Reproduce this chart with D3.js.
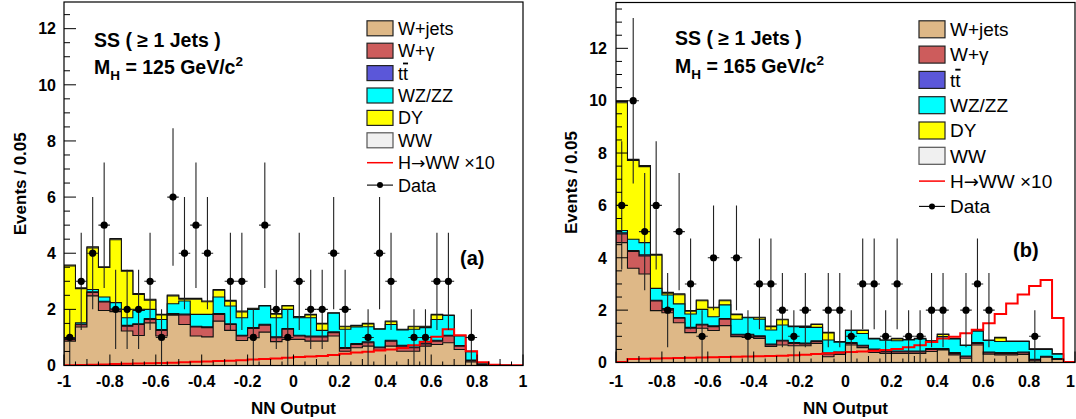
<!DOCTYPE html>
<html><head><meta charset="utf-8">
<script src="https://cdn.jsdelivr.net/npm/d3@7/dist/d3.min.js"></script>
<style>
body{margin:0;background:#fff;}
svg{display:block;}
text{font-family:"Liberation Sans",Arial,Helvetica,sans-serif;}
</style>
</head><body>
<svg id="chart" width="1076" height="419"></svg>
<script>
// ---------- binning & labels ----------
const binLow = -1, binWidth = 0.05, nBins = 40;
const xTickLabels = ["-1","-0.8","-0.6","-0.4","-0.2","0","0.2","0.4","0.6","0.8","1"];
const yTickLabels = ["0","2","4","6","8","10","12"];
const legendLabels = ["W+jets","W+\u03b3","tt","WZ/ZZ","DY","WW","H\u2192WW \u00d710","Data"];
const seriesNames = ["W+jets","W+\u03b3","tt","WZ/ZZ","DY","WW"];

// ---------- panel (a): M_H = 125 ----------
const a_wjets  = [0.87,1.37,2.48,1.96,1.92,1.23,1.07,1.52,1.05,1.79,1.46,1.05,1.02,1.58,1.25,0.89,0.99,1.19,0.85,0.93,
                  0.93,0.87,0.87,1.05,0.51,0.63,0.69,0.54,0.69,0.51,0.51,0.69,0.75,0.81,0.57,0.13,0.03,0.01,0.00,0.00];
const a_wgamma = [0.06,0.08,0.12,0.30,0.06,0.17,0.39,0.12,0.20,0.03,0.34,0.32,0.33,0.24,0.21,0.16,0.33,0.25,0.14,0.36,
                  0.12,0.15,0.15,0.12,0.10,0.12,0.12,0.09,0.18,0.18,0.12,0.08,0.12,0.24,0.12,0.05,0.01,0.00,0.00,0.00];
const a_ttbar  = [0.02,0.02,0.03,0.03,0.03,0.03,0.03,0.03,0.03,0.03,0.03,0.03,0.03,0.03,0.03,0.03,0.03,0.03,0.03,0.03,
                  0.03,0.03,0.03,0.03,0.03,0.03,0.03,0.03,0.03,0.03,0.03,0.03,0.03,0.03,0.02,0.01,0.00,0.00,0.00,0.00];
const a_wzzz   = [0.01,0.05,0.08,0.15,0.23,0.27,0.47,0.33,0.36,0.35,0.47,0.42,0.44,0.59,0.63,0.62,0.65,0.65,0.68,0.68,
                  0.62,0.65,0.20,0.66,0.65,0.59,0.54,0.63,0.56,0.55,0.63,0.55,0.74,0.70,0.34,0.30,0.05,0.01,0.01,0.00];
const a_dy     = [2.59,1.22,1.48,1.05,2.24,1.66,0.57,0.33,0.16,0.28,0.06,0.54,0.45,0.24,0.17,0.21,0.02,0.00,0.13,0.12,
                  0.02,0.10,0.23,0.00,0.09,0.04,0.10,0.00,0.10,0.00,0.09,0.03,0.16,0.00,0.00,0.00,0.00,0.00,0.00,0.00];
const a_ww     = [0.03,0.03,0.04,0.03,0.04,0.03,0.03,0.03,0.02,0.03,0.03,0.03,0.03,0.03,0.03,0.03,0.02,0.02,0.02,0.02,
                  0.02,0.02,0.02,0.02,0.02,0.02,0.02,0.02,0.02,0.02,0.02,0.02,0.02,0.02,0.02,0.02,0.01,0.00,0.00,0.00];
const a_higgs  = [0.01,0.02,0.03,0.04,0.05,0.06,0.07,0.08,0.09,0.10,0.12,0.13,0.14,0.16,0.17,0.19,0.21,0.23,0.25,0.28,
                  0.30,0.32,0.34,0.37,0.42,0.46,0.49,0.53,0.57,0.62,0.72,0.85,1.02,1.29,1.08,0.51,0.12,0.03,0.01,0.01];
const a_data   = [1,3,4,5,2,2,2,3,1,6,4,5,4,0,3,3,1,5,2,1,
                  3,2,2,4,2,0,1,4,3,0,1,1,3,3,0,1,0,0,0,0];

// ---------- panel (b): M_H = 165 ----------
const b_wjets  = [4.58,3.60,3.38,1.98,1.90,1.52,1.14,1.31,1.22,1.41,0.99,0.96,0.92,0.61,0.67,0.64,0.64,0.73,0.22,0.31,
                  0.67,0.57,0.38,0.35,0.35,0.35,0.35,0.42,0.48,0.29,0.16,0.67,0.32,0.29,0.29,0.31,0.06,0.20,0.12,0.01];
const b_wgamma = [0.33,0.64,0.69,0.37,0.13,0.17,0.17,0.12,0.15,0.24,0.06,0.09,0.07,0.06,0.15,0.09,0.07,0.07,0.11,0.06,
                  0.06,0.06,0.10,0.06,0.06,0.06,0.06,0.08,0.02,0.06,0.06,0.06,0.05,0.06,0.06,0.06,0.04,0.02,0.02,0.00];
const b_ttbar  = [0.04,0.04,0.04,0.03,0.03,0.03,0.03,0.03,0.03,0.03,0.03,0.03,0.03,0.03,0.03,0.03,0.03,0.03,0.03,0.03,
                  0.03,0.03,0.03,0.03,0.03,0.03,0.03,0.03,0.03,0.03,0.03,0.03,0.03,0.03,0.03,0.03,0.02,0.02,0.01,0.00];
const b_wzzz   = [0.09,0.43,0.47,0.45,0.52,0.52,0.51,0.57,0.35,0.52,0.57,0.63,0.63,0.54,0.58,0.61,0.60,0.51,0.50,0.38,
                  0.46,0.45,0.39,0.41,0.39,0.42,0.46,0.28,0.46,0.52,0.40,0.44,0.44,0.42,0.42,0.40,0.38,0.26,0.17,0.02];
const b_dy     = [4.88,3.01,2.90,1.27,0.07,0.35,0.11,0.33,0.34,0.16,0.18,0.00,0.06,0.13,0.20,0.00,0.03,0.11,0.27,0.00,
                  0.00,0.11,0.00,0.00,0.07,0.00,0.00,0.00,0.08,0.00,0.00,0.00,0.00,0.14,0.00,0.00,0.00,0.00,0.00,0.00];
const b_ww     = [0.05,0.04,0.04,0.03,0.03,0.03,0.02,0.03,0.02,0.03,0.02,0.02,0.02,0.02,0.02,0.02,0.02,0.02,0.02,0.02,
                  0.02,0.02,0.02,0.01,0.02,0.02,0.02,0.02,0.02,0.02,0.02,0.02,0.02,0.02,0.02,0.02,0.02,0.02,0.01,0.00];
const b_higgs  = [0.02,0.13,0.14,0.15,0.16,0.17,0.18,0.19,0.20,0.21,0.22,0.23,0.24,0.25,0.26,0.28,0.30,0.32,0.35,0.38,
                  0.40,0.42,0.45,0.48,0.52,0.58,0.66,0.78,0.92,0.98,1.12,1.25,1.50,1.85,2.25,2.60,2.92,3.15,1.70,0.02];
const b_data   = [6,10,5,6,2,5,3,1,4,0,4,1,3,3,2,1,2,0,2,2,
                  1,3,3,1,3,1,1,2,2,0,2,3,2,0,0,0,1,0,0,0];

// ---------- styles ----------
const fillColors = ["#deb887","#cd5c5c","#5b57d9","#00ffff","#ffff00","#f0f0f0"];

const panels = [
  {series:[a_wjets,a_wgamma,a_ttbar,a_wzzz,a_dy,a_ww], higgs:a_higgs, data:a_data,
   x0:64, x1:523, yTop:2, yBot:365.5, yMax:12.95,
   textX:94, textY:[47,74], mass:"125", tag:"(a)", tagX:460, tagY:265,
   leg:{swX:367, swW:26, swH:15, textX:398, y0:28.3, dy:22.4, fs:18},
   yTitleX:26, yTickX:56},
  {series:[b_wjets,b_wgamma,b_ttbar,b_wzzz,b_dy,b_ww], higgs:b_higgs, data:b_data,
   x0:616, x1:1075, yTop:2.5, yBot:362.5, yMax:13.75,
   textX:675, textY:[45,73], mass:"165", tag:"(b)", tagX:1013, tagY:257,
   leg:{swX:919, swW:26, swH:17, textX:950, y0:29.3, dy:25.3, fs:19},
   yTitleX:577, yTickX:607}
];

const svg = d3.select("#chart");
const W = +svg.attr("width");

panels.forEach((p, pi) => {
  const g = svg.append("g");
  const x = d3.scaleLinear().domain([-1, 1]).range([p.x0, p.x1]);
  const y = d3.scaleLinear().domain([0, p.yMax]).range([p.yBot, p.yTop]);

  const clipId = "clip" + pi;
  svg.append("clipPath").attr("id", clipId).append("rect")
    .attr("x", p.x0).attr("y", p.yTop).attr("width", p.x1 - p.x0).attr("height", p.yBot - p.yTop);
  const plot = g.append("g").attr("clip-path", `url(#${clipId})`);

  const rows = d3.range(nBins).map(i => {
    const r = {i: i};
    seriesNames.forEach((n, k) => r[n] = p.series[k][i]);
    return r;
  });
  const stacked = d3.stack().keys(seriesNames)(rows);
  const edge = i => binLow + i * binWidth;

  const area = d3.area().curve(d3.curveStepAfter)
    .x(d => x(d.e)).y0(y(0)).y1(d => y(d.v));
  for (let k = seriesNames.length - 1; k >= 0; k--) {
    const pts = stacked[k].map((s, i) => ({e: edge(i), v: s[1]}));
    pts.push({e: edge(nBins), v: stacked[k][nBins - 1][1]});
    plot.append("path").attr("d", area(pts))
      .attr("fill", fillColors[k]).attr("stroke", "#111").attr("stroke-width", 1.1);
  }

  const line = d3.line().curve(d3.curveStepAfter).x(d => x(d.e)).y(d => y(d.v));
  const hp = p.higgs.map((v, i) => ({e: edge(i), v: v}));
  hp.push({e: edge(nBins), v: p.higgs[nBins - 1]});
  plot.append("path").attr("d", line(hp)).attr("fill", "none")
    .attr("stroke", "#ff0000").attr("stroke-width", 2);

  p.data.forEach((n, i) => {
    if (n <= 0) return;
    const cx = x(edge(i) + binWidth / 2), e = Math.sqrt(n);
    plot.append("line").attr("x1", cx).attr("x2", cx)
      .attr("y1", y(Math.max(0, n - e))).attr("y2", y(n + e))
      .attr("stroke", "#222").attr("stroke-width", 1.1);
    plot.append("line").attr("x1", x(edge(i))).attr("x2", x(edge(i + 1)))
      .attr("y1", y(n)).attr("y2", y(n)).attr("stroke", "#222").attr("stroke-width", 1.1);
    plot.append("circle").attr("cx", cx).attr("cy", y(n)).attr("r", 3.6).attr("fill", "#000");
  });

  g.append("rect").attr("x", p.x0).attr("y", p.yTop)
    .attr("width", p.x1 - p.x0).attr("height", p.yBot - p.yTop)
    .attr("fill", "none").attr("stroke", "#000").attr("stroke-width", 1.2);

  d3.range(0, 41).forEach(j => {
    const v = -1 + j * 0.05;
    const len = (j % 4 === 0) ? 11 : (j % 2 === 0 ? 6.5 : 4);
    g.append("line").attr("x1", x(v)).attr("x2", x(v))
      .attr("y1", p.yBot).attr("y2", p.yBot - len).attr("stroke", "#000").attr("stroke-width", 1);
  });
  xTickLabels.forEach(lbl => {
    const t = g.append("text").attr("x", x(+lbl)).attr("y", 387).attr("text-anchor", "middle")
      .attr("font-weight", "bold").attr("font-size", 16).text(lbl);
    const bb = t.node().getBBox();
    if (bb.x + bb.width > W - 1) t.attr("x", W - 1 - bb.width / 2);
  });
  d3.range(0, Math.floor(p.yMax * 2) + 1).forEach(j => {
    const v = j * 0.5;
    const len = (j % 4 === 0) ? 12 : 6;
    g.append("line").attr("x1", p.x0).attr("x2", p.x0 + len)
      .attr("y1", y(v)).attr("y2", y(v)).attr("stroke", "#000").attr("stroke-width", 1);
  });
  yTickLabels.forEach(lbl => {
    g.append("text").attr("x", p.yTickX).attr("y", y(+lbl)).attr("dy", "0.36em")
      .attr("text-anchor", "end").attr("font-weight", "bold").attr("font-size", 16).text(lbl);
  });

  g.append("text").attr("x", (p.x0 + p.x1) / 2).attr("y", 413.5).attr("text-anchor", "middle")
    .attr("font-weight", "bold").attr("font-size", 17).text("NN Output");
  g.append("text").attr("transform", `translate(${p.yTitleX},${(p.yTop + p.yBot) / 2}) rotate(-90)`)
    .attr("text-anchor", "middle").attr("font-weight", "bold").attr("font-size", 17).text("Events / 0.05");

  g.append("text").attr("x", p.textX).attr("y", p.textY[0]).attr("font-weight", "bold")
    .attr("font-size", 19.5).text("SS ( \u2265 1 Jets )");
  const t2 = g.append("text").attr("x", p.textX).attr("y", p.textY[1]).attr("font-weight", "bold")
    .attr("font-size", 19.5);
  t2.append("tspan").text("M");
  t2.append("tspan").attr("font-size", 13.5).attr("dy", 6).text("H");
  t2.append("tspan").attr("dy", -6).text(" = " + p.mass + " GeV/c");
  t2.append("tspan").attr("font-size", 13.5).attr("dy", -8).text("2");

  g.append("text").attr("x", p.tagX).attr("y", p.tagY).attr("font-weight", "bold")
    .attr("font-size", 20).text(p.tag);

  const L = p.leg;
  legendLabels.forEach((lbl, k) => {
    const cy = L.y0 + k * L.dy;
    if (k < 6) {
      g.append("rect").attr("x", L.swX).attr("y", cy - L.swH / 2).attr("width", L.swW).attr("height", L.swH)
        .attr("fill", fillColors[k]).attr("stroke", k === 5 ? "#555" : "#222").attr("stroke-width", 1.2);
    } else if (k === 6) {
      g.append("line").attr("x1", L.swX).attr("x2", L.swX + L.swW).attr("y1", cy).attr("y2", cy)
        .attr("stroke", "#ff0000").attr("stroke-width", 1.5);
    } else {
      g.append("line").attr("x1", L.swX).attr("x2", L.swX + L.swW).attr("y1", cy).attr("y2", cy)
        .attr("stroke", "#000").attr("stroke-width", 1.1);
      g.append("circle").attr("cx", L.swX + L.swW / 2).attr("cy", cy).attr("r", 3).attr("fill", "#000");
    }
    const t = g.append("text").attr("x", L.textX).attr("y", cy).attr("dy", "0.36em")
      .attr("font-size", L.fs);
    if (k === 2) {
      t.append("tspan").text("t");
      t.append("tspan").style("text-decoration", "overline").text("t");
    } else if (k === 6) {
      t.append("tspan").text("H");
      t.append("tspan").style("font-family", '"DejaVu Sans"').attr("font-size", L.fs * 0.95).text("\u2192");
      t.append("tspan").text("WW \u00d710");
    } else {
      t.text(lbl);
    }
  });
});
</script>
</body></html>
